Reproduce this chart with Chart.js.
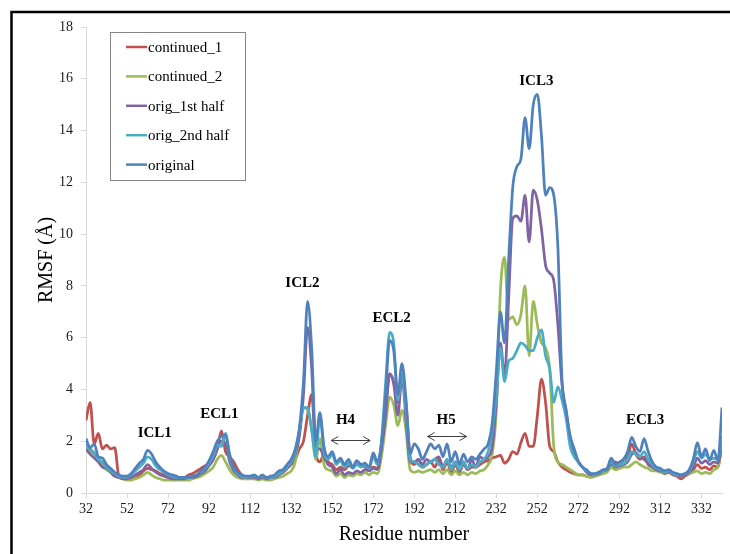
<!DOCTYPE html>
<html>
<head>
<meta charset="utf-8">
<script src="https://cdn.jsdelivr.net/npm/chart.js@4.4.1/dist/chart.umd.min.js"></script>
<style>
  html, body { margin: 0; padding: 0; background: #fff; }
  #wrap { width: 730px; height: 554px; }
</style>
</head>
<body>
<div id="wrap"><canvas id="rmsf" width="730" height="554"></canvas></div>
<script>
// residue numbers, every second residue from 32 to 342
const residues = [];
for (let r = 32; r <= 342; r += 2) residues.push(r);

const xTicks = [32, 52, 72, 92, 112, 132, 152, 172, 192, 212, 232, 252, 272, 292, 312, 332];

// RMSF per residue (Å)
const continued1 = [
  2.8, 3.5, 1.9, 2.3, 1.7, 1.85, 1.7, 1.75, 0.65, 0.55,
  0.55, 0.6, 0.65, 0.7, 0.85, 0.95, 0.9, 0.85, 0.75, 0.7,
  0.6, 0.55, 0.55, 0.6, 0.6, 0.7, 0.75, 0.85, 0.95, 1.05,
  1.1, 1.3, 1.7, 2.4, 1.6, 1.4, 1.2, 0.9, 0.7, 0.6,
  0.6, 0.65, 0.6, 0.6, 0.55, 0.6, 0.65, 0.7, 0.8, 0.95,
  1.1, 1.3, 1.7, 2.0, 3.0, 3.8, 1.6, 1.2, 1.5, 1.2,
  1.1, 0.9, 1.0, 0.9, 1.05, 1.0, 1.2, 1.1, 1.0, 0.95,
  1.0, 0.95, 1.8, 3.2, 4.6, 4.3, 3.5, 4.4, 3.4, 1.4,
  1.1, 1.3, 1.0, 1.1, 1.2, 1.0, 1.3, 0.9, 1.2, 0.8,
  1.1, 0.8, 1.1, 0.9, 1.0, 1.0, 1.1, 1.2, 1.25, 1.35,
  1.4, 1.45, 1.15, 1.3, 1.6, 1.5, 1.95, 2.3, 1.8, 1.8,
  3.0, 4.4, 3.5, 1.8, 1.6, 1.2, 1.0, 0.9, 0.8, 0.75,
  0.7, 0.7, 0.65, 0.65, 0.65, 0.7, 0.8, 0.85, 1.1, 1.2,
  1.1, 1.3, 1.4, 1.9, 1.5, 1.3, 1.4, 1.1, 1.0, 0.9,
  0.85, 0.75, 0.8, 0.7, 0.65, 0.55, 0.65, 0.75, 0.9, 1.1,
  0.95, 1.0, 0.9, 1.05, 1.0, 2.0
];
const continued2 = [
  1.8, 1.6, 1.5, 1.25, 1.1, 0.9, 0.8, 0.65, 0.6, 0.55,
  0.5, 0.5, 0.55, 0.6, 0.7, 0.8, 0.7, 0.6, 0.55, 0.5,
  0.5, 0.5, 0.5, 0.5, 0.5, 0.5, 0.55, 0.6, 0.65, 0.75,
  0.85, 1.0, 1.3, 1.45, 1.2, 0.9, 0.7, 0.6, 0.55, 0.55,
  0.55, 0.55, 0.5, 0.55, 0.5, 0.5, 0.55, 0.6, 0.65, 0.75,
  0.85, 1.2, 2.3, 3.3, 3.2, 2.5, 1.3, 2.1, 1.1, 0.9,
  0.85, 0.65, 0.75, 0.6, 0.7, 0.65, 0.75, 0.7, 0.8, 0.7,
  0.8, 0.75, 1.4, 2.6, 3.7, 3.4, 2.6, 3.2, 2.4, 0.9,
  0.8, 0.85, 0.8, 0.85, 0.9, 0.8, 0.9, 0.75, 0.9, 0.7,
  0.85, 0.7, 0.8, 0.7, 0.8, 0.75, 0.85, 0.9, 1.1, 1.5,
  3.2, 7.8, 9.1, 6.7, 6.8, 6.5, 6.9, 8.0, 5.3, 7.4,
  6.5, 5.8, 5.6, 4.8, 1.8, 1.2, 1.1, 1.0, 0.9, 0.8,
  0.7, 0.7, 0.65, 0.6, 0.65, 0.7, 0.75, 0.8, 1.0, 0.9,
  0.95, 1.0, 1.0, 1.1, 1.2, 1.1, 1.0, 0.95, 0.85, 0.85,
  0.8, 0.85, 0.8, 0.75, 0.7, 0.65, 0.7, 0.75, 0.8, 0.85,
  0.75, 0.8, 0.75, 0.9, 1.0, 1.9
];
const orig1stHalf = [
  1.7, 1.5, 1.35, 1.2, 1.0, 0.95, 0.8, 0.65, 0.6, 0.55,
  0.55, 0.6, 0.7, 0.8, 0.9, 1.1, 0.95, 0.8, 0.7, 0.65,
  0.6, 0.55, 0.55, 0.55, 0.55, 0.6, 0.6, 0.65, 0.75, 0.85,
  1.05, 1.3, 1.7, 2.0, 1.9, 1.2, 0.85, 0.7, 0.6, 0.6,
  0.6, 0.6, 0.55, 0.6, 0.55, 0.6, 0.6, 0.7, 0.8, 0.95,
  1.15, 1.5, 2.2, 3.8, 6.4, 4.8, 1.7, 1.7, 1.4, 1.1,
  1.0, 0.75, 0.9, 0.7, 0.8, 0.75, 0.85, 0.8, 0.9, 0.85,
  0.95, 0.9, 1.7, 3.0, 4.6, 4.2, 3.0, 4.5, 2.8, 1.2,
  1.2, 1.3, 1.1, 1.3, 1.2, 1.3, 1.4, 1.0, 1.3, 1.0,
  1.2, 0.9, 1.2, 0.9, 1.3, 1.0, 1.4, 1.3, 1.4, 1.8,
  3.5, 5.8, 4.5, 7.5, 10.6, 10.7, 10.5, 11.5, 9.7, 11.7,
  11.3, 10.2, 8.8, 8.5, 8.2, 6.5, 4.2, 3.2, 2.1, 1.6,
  1.2, 1.0, 0.8, 0.7, 0.7, 0.75, 0.85, 0.9, 1.15, 1.0,
  1.05, 1.1, 1.2, 1.5, 1.55, 1.4, 1.3, 1.15, 1.0, 0.9,
  0.85, 0.8, 0.8, 0.75, 0.7, 0.65, 0.7, 0.8, 1.0, 1.35,
  1.15, 1.25, 1.1, 1.2, 1.15, 1.8
];
const orig2ndHalf = [
  1.9, 1.7, 1.55, 1.3, 1.2, 1.0, 0.85, 0.75, 0.65, 0.6,
  0.62, 0.7, 0.85, 1.0, 1.15, 1.4, 1.3, 1.05, 0.9, 0.8,
  0.7, 0.65, 0.6, 0.6, 0.6, 0.6, 0.65, 0.7, 0.8, 0.95,
  1.15, 1.45, 1.85, 1.8, 2.3, 1.4, 0.95, 0.75, 0.65, 0.6,
  0.65, 0.65, 0.6, 0.65, 0.6, 0.6, 0.65, 0.75, 0.85, 1.0,
  1.2, 1.6, 2.4, 3.3, 3.3, 2.4, 1.4, 3.0, 1.6, 1.3,
  1.5, 1.1, 1.25, 1.0, 1.15, 0.95, 1.1, 1.0, 1.05, 0.95,
  1.4, 1.1, 2.0, 4.2, 6.2, 5.8, 3.6, 4.6, 3.2, 1.3,
  1.2, 1.1, 1.0, 1.1, 1.2, 1.3, 1.1, 1.0, 1.3, 0.9,
  1.2, 0.9, 1.2, 0.95, 1.1, 1.0, 1.2, 1.3, 1.6, 2.4,
  3.8, 5.6, 4.3, 5.1, 5.2, 5.5, 5.8, 5.7, 5.5, 5.5,
  6.0, 6.3, 5.3, 4.8, 3.5, 4.1, 3.6, 2.9, 1.8, 1.4,
  1.2, 1.0, 0.85, 0.75, 0.7, 0.8, 0.85, 0.95, 1.2, 1.05,
  1.1, 1.15, 1.3, 1.6, 1.5, 1.4, 1.6, 1.3, 1.1, 0.95,
  0.9, 0.8, 0.85, 0.75, 0.7, 0.7, 0.75, 0.85, 1.2, 1.6,
  1.35, 1.5, 1.3, 1.35, 1.3, 2.2
];
const original = [
  2.1, 1.75, 1.9, 1.4, 1.35, 1.1, 0.95, 0.8, 0.7, 0.65,
  0.65, 0.75, 0.95, 1.15, 1.3, 1.65, 1.5, 1.2, 1.0, 0.85,
  0.75, 0.7, 0.65, 0.6, 0.6, 0.6, 0.65, 0.7, 0.85, 1.0,
  1.25, 1.6, 2.0, 2.2, 2.25, 1.5, 1.0, 0.8, 0.7, 0.65,
  0.65, 0.7, 0.6, 0.7, 0.6, 0.65, 0.7, 0.85, 0.9, 1.1,
  1.3, 1.7, 2.5, 4.3, 7.4, 5.6, 2.0, 3.1, 1.8, 1.4,
  1.6, 1.2, 1.35, 1.1, 1.3, 1.0, 1.25, 1.1, 1.15, 1.0,
  1.55, 1.2, 1.9, 3.8, 5.9, 5.5, 3.8, 5.0, 3.6, 1.5,
  1.9, 1.7, 1.3, 1.6, 1.9, 1.7, 1.85, 1.4, 1.9, 1.2,
  1.6, 1.1, 1.5, 1.2, 1.4, 1.3, 1.5, 1.7, 1.9, 2.7,
  4.7, 7.0, 5.8, 9.0, 11.8, 12.6, 12.9, 14.5, 13.3, 15.0,
  15.4, 13.8, 11.5, 11.8, 11.5, 9.5, 4.4, 3.2, 2.2, 1.7,
  1.2, 1.0, 0.9, 0.75, 0.75, 0.8, 0.9, 0.95, 1.35, 1.1,
  1.2, 1.3, 1.6, 2.15, 1.8, 1.6, 2.1, 1.6, 1.2, 1.0,
  0.95, 0.85, 0.9, 0.8, 0.75, 0.7, 0.75, 0.9, 1.3, 1.95,
  1.4, 1.7, 1.25, 1.65, 1.25, 3.3
];

const seriesNames = ['continued_1', 'continued_2', 'orig_1st half', 'orig_2nd half', 'original'];
const seriesValues = [continued1, continued2, orig1stHalf, orig2ndHalf, original];
const seriesColors = ['#c0504d', '#9bbb59', '#8064a2', '#4bacc6', '#4f81bd'];

// region labels placed in data units
const regionNames = ['ICL1', 'ECL1', 'ICL2', 'ECL2', 'H4', 'H5', 'ICL3', 'ECL3'];
const regionAt = [[65.5, 2.3], [97, 3.05], [137.5, 8.1], [181, 6.75], [158.5, 2.8], [207.5, 2.8], [251.5, 15.9], [304.5, 2.8]];
const helixArrows = [[151.5, 170.5, 2.03], [198.5, 217.5, 2.2]];

const SERIF = '"Liberation Serif", "Times New Roman", serif';

const regionLabels = {
  id: 'regionLabels',
  afterDatasetsDraw(chart) {
    const { ctx, scales: { x, y } } = chart;
    ctx.save();
    ctx.fillStyle = '#000';
    ctx.font = 'bold 15px ' + SERIF;
    ctx.textAlign = 'center';
    ctx.textBaseline = 'middle';
    regionNames.forEach((name, i) => {
      ctx.fillText(name, x.getPixelForValue(regionAt[i][0]), y.getPixelForValue(regionAt[i][1]));
    });
    ctx.strokeStyle = '#404040';
    ctx.lineWidth = 1;
    helixArrows.forEach(([a, b, v]) => {
      const x1 = x.getPixelForValue(a), x2 = x.getPixelForValue(b), py = Math.round(y.getPixelForValue(v)) + 0.5;
      ctx.beginPath();
      ctx.moveTo(x1, py); ctx.lineTo(x2, py);
      ctx.moveTo(x1 + 7, py - 4); ctx.lineTo(x1, py); ctx.lineTo(x1 + 7, py + 4);
      ctx.moveTo(x2 - 7, py - 4); ctx.lineTo(x2, py); ctx.lineTo(x2 - 7, py + 4);
      ctx.stroke();
    });
    ctx.restore();
  }
};

const legendBox = {
  id: 'legendBox',
  afterDraw(chart) {
    const ctx = chart.ctx;
    ctx.save();
    ctx.fillStyle = '#fff';
    ctx.strokeStyle = '#868686';
    ctx.lineWidth = 1;
    ctx.fillRect(110.5, 32.5, 135, 148);
    ctx.strokeRect(110.5, 32.5, 135, 148);
    ctx.font = '15px ' + SERIF;
    ctx.textBaseline = 'middle';
    chart.data.datasets.forEach((ds, i) => {
      const py = 47 + i * 29.4;
      ctx.strokeStyle = ds.borderColor;
      ctx.lineWidth = 2.5;
      ctx.beginPath();
      ctx.moveTo(126, py); ctx.lineTo(147, py);
      ctx.stroke();
      ctx.fillStyle = '#000';
      ctx.fillText(ds.label, 148, py + 1);
    });
    ctx.restore();
  }
};

// black frame along the top and left edge
const frame = {
  id: 'frame',
  afterDraw(chart) {
    const ctx = chart.ctx;
    ctx.save();
    ctx.strokeStyle = '#000';
    ctx.lineWidth = 2.5;
    ctx.beginPath();
    ctx.moveTo(11.5, chart.height + 2);
    ctx.lineTo(11.5, 12);
    ctx.lineTo(chart.width + 2, 12);
    ctx.stroke();
    ctx.restore();
  }
};

new Chart(document.getElementById('rmsf'), {
  type: 'line',
  data: {
    labels: residues,
    datasets: seriesNames.map((name, i) => ({
      label: name,
      data: residues.map((r, k) => ({ x: r, y: seriesValues[i][k] })),
      borderColor: seriesColors[i],
      backgroundColor: seriesColors[i],
      borderWidth: 2.75,
      pointRadius: 0,
      cubicInterpolationMode: 'monotone',
      order: seriesNames.length - i
    }))
  },
  options: {
    responsive: false,
    animation: false,
    devicePixelRatio: 1,
    layout: { padding: { left: 0, right: 8, top: 27, bottom: 0 } },
    plugins: { legend: { display: false }, tooltip: { enabled: false } },
    scales: {
      x: {
        type: 'linear',
        min: 32,
        max: 342,
        afterBuildTicks: s => { s.ticks = xTicks.map(v => ({ value: v })); },
        afterFit: s => { s.height = 61; },
        grid: { drawOnChartArea: false, drawTicks: true, tickLength: 5, color: '#d9d9d9' },
        border: { display: true, color: '#d9d9d9', width: 1 },
        ticks: { autoSkip: false, maxRotation: 0, padding: 3, color: '#1a1a1a', font: { family: SERIF, size: 14 } },
        title: { display: true, text: 'Residue number', color: '#000', font: { family: SERIF, size: 20 }, padding: { top: 0, bottom: 7 } }
      },
      y: {
        min: 0,
        max: 18,
        afterFit: s => { s.width = 86; },
        grid: { drawOnChartArea: false, drawTicks: true, tickLength: 5, color: '#d9d9d9' },
        border: { display: true, color: '#d9d9d9', width: 1 },
        ticks: { stepSize: 2, padding: 8, color: '#1a1a1a', font: { family: SERIF, size: 14 } },
        title: { display: true, text: 'RMSF (Å)', color: '#000', font: { family: SERIF, size: 20 }, padding: { top: 35, bottom: 0 } }
      }
    }
  },
  plugins: [regionLabels, legendBox, frame]
});
</script>
</body>
</html>
